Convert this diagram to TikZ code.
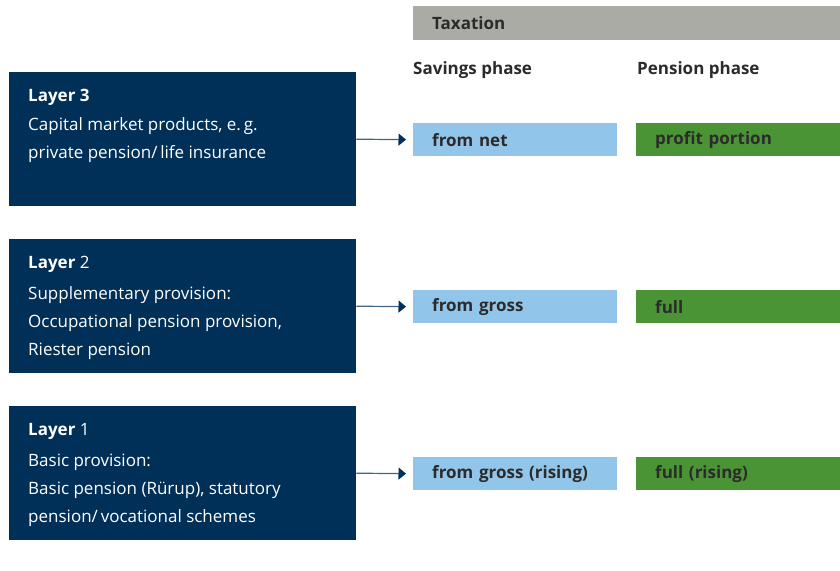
\documentclass[tikz,border=0pt]{standalone}
\usepackage{fontspec}
\setmainfont{Open Sans}
\usetikzlibrary{arrows.meta}
\definecolor{layernavy}{HTML}{003057}
\definecolor{savblue}{HTML}{92C5EA}
\definecolor{penggreen}{HTML}{4A9436}
\definecolor{taxgray}{HTML}{ABABA6}
\definecolor{inkgray}{HTML}{2B2B2B}
\begin{document}
\begin{tikzpicture}[x=1pt,y=-1pt,
    layerbox/.style={fill=layernavy,anchor=north west,minimum width=347pt,minimum height=134pt,inner sep=0pt},
    layertext/.style={anchor=north west,align=left,text=white,inner sep=0pt,
      font=\fontsize{17}{28}\selectfont},
    phasebox/.style={anchor=north west,text width=166pt,inner xsep=19pt,inner ysep=0pt,
      minimum height=33pt,text=inkgray,font=\fontsize{17}{20}\selectfont\bfseries},
    phasehead/.style={anchor=base west,inner sep=0pt,text=inkgray,font=\fontsize{17}{20}\selectfont\bfseries},
    link/.style={draw=layernavy!75!white,line width=1.2pt,shorten >=7pt,
      -{Triangle[length=7.5pt,width=12pt,color=layernavy]}}]
  \useasboundingbox (0,0) rectangle (840,570);
  % taxation header
  \node[phasebox,fill=taxgray,text width=389pt,minimum height=34pt] (tax) at (413,6) {Taxation};
  \node[phasehead] (savhead) at (413,74) {Savings phase};
  \node[phasehead] (penhead) at (637,74) {Pension phase};
  % layers
  \node[layerbox] (l3) at (9,72) {};
  \node[layerbox] (l2) at (9,239) {};
  \node[layerbox] (l1) at (9,406) {};
  \node[layertext] (l3text) at ([xshift=19pt,yshift=-17pt]l3.north west)
    {\textbf{Layer 3}\\[1pt] Capital market products, e.\,g.\\ private pension/\,life insurance};
  \node[layertext] (l2text) at ([xshift=19pt,yshift=-17pt]l2.north west)
    {\textbf{Layer} 2\\[3pt] Supplementary provision:\\ Occupational pension provision,\\ Riester pension};
  \node[layertext] (l1text) at ([xshift=19pt,yshift=-17pt]l1.north west)
    {\textbf{Layer} 1\\[3pt] Basic provision:\\ Basic pension (Rürup), statutory\\ pension/\,vocational schemes};
  % savings and pension phase
  \node[phasebox,fill=savblue] (sav3) at (413,123) {from net};
  \node[phasebox,fill=savblue] (sav2) at (413,290) {from gross};
  \node[phasebox,fill=savblue] (sav1) at (413,457) {from gross (rising)};
  \node[phasebox,fill=penggreen] (pen3) at (636,123) {profit portion};
  \node[phasebox,fill=penggreen] (pen2) at (636,290) {full};
  \node[phasebox,fill=penggreen] (pen1) at (636,457) {full (rising)};
  \draw[link] (l3.east) -- (sav3.west);
  \draw[link] (l2.east) -- (sav2.west);
  \draw[link] (l1.east) -- (sav1.west);
\end{tikzpicture}
\end{document}
